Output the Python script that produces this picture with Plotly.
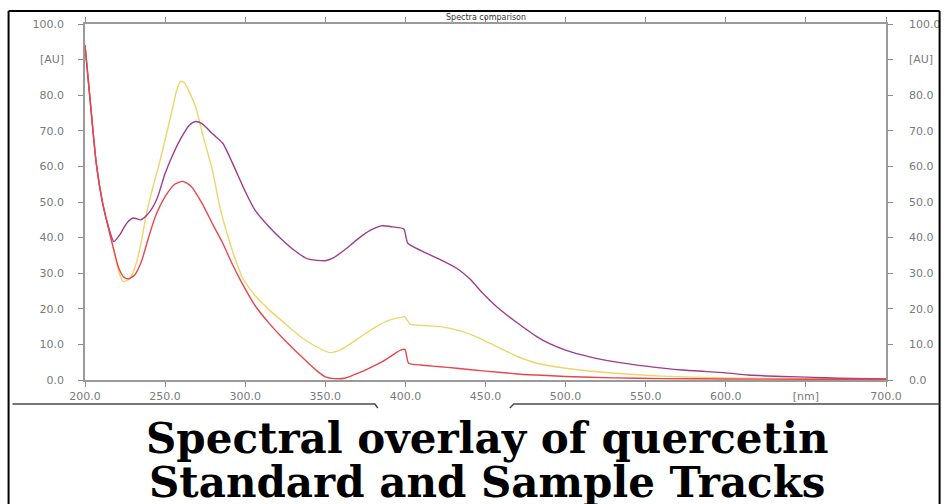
import plotly.graph_objects as go

# ---------------- data ----------------
purple_nm = [200, 203, 207, 211, 215, 218, 222, 226, 230, 235, 240, 245, 250, 255, 260, 265, 269, 273,
             280, 286, 292, 300, 306, 315, 323, 331, 339, 345, 350, 355, 362, 370, 378, 385, 392, 399,
             401.5, 410, 420, 432, 440, 448, 457, 470, 482, 490, 500, 515, 531, 550, 573, 600, 614,
             635, 655, 670, 700]
purple_au = [94, 79.6, 61, 49.7, 42.5, 38.9, 41, 44, 45.5, 45, 47, 51, 58, 63.5, 68, 71.5, 72.6, 72,
             69, 66.5, 61, 53, 47.8, 43, 39.4, 36.3, 34, 33.6, 33.5, 34.3, 36.5, 39.5, 42, 43.3, 43, 42.4,
             38.4, 36.3, 34.2, 31.4, 28.5, 24.5, 20.6, 16, 12.2, 10.2, 8.4, 6.5, 5.1, 3.9, 2.8, 2.0, 1.4,
             1.0, 0.75, 0.5, 0.3]

yellow_nm = [200, 203, 207, 211, 215, 218, 221, 224, 228, 232, 235, 238, 242, 246.5, 250, 254, 257,
             259.5, 262, 265, 269, 274, 279.5, 284, 288, 293, 298, 306, 315, 325, 335, 345, 353, 360,
             370, 380, 390, 397, 399.5, 403, 412, 422, 436, 445, 457, 470, 482, 500, 531, 560, 600,
             650, 700]
yellow_au = [94, 79.6, 61, 49.7, 42, 36.5, 30.5, 27.6, 28.5, 32.8, 38.5, 45.9, 53.5, 61, 67.5, 75, 81,
             83.9, 83.5, 81, 76.8, 68, 59, 49, 42.2, 35, 29, 23.8, 19.7, 15.8, 12, 9.2, 7.7, 8.6,
             11.5, 14.5, 16.8, 17.6, 17.8, 15.7, 15.3, 15, 13.6, 12, 9.4, 6.6, 4.7, 3.3, 1.9, 1.1, 0.6,
             0.35, 0.3]

red_nm = [200, 203, 207, 211, 215, 218, 221, 224, 227, 231, 235, 240, 244, 250, 256, 261, 266, 273,
          280, 286, 292, 298, 306, 315, 325, 333, 340, 345, 350, 356, 362, 368, 375, 385, 392, 397,
          399.7, 402, 410, 420, 432, 450, 470, 482, 500, 530, 560, 600, 650, 700]
red_au = [94, 79.6, 61, 49.7, 42, 36.5, 31.5, 29, 28.4, 29.5, 33, 40.5, 46, 51.5, 55, 55.8, 54.5, 49.7,
          43.5, 38.4, 32.5, 27.2, 21, 15.9, 11, 7.5, 4.5, 2.5, 0.9, 0.4, 0.5, 1.5, 2.8, 5, 7, 8.4,
          8.6, 4.7, 4.2, 3.8, 3.3, 2.5, 1.7, 1.4, 1.0, 0.6, 0.4, 0.3, 0.2, 0.2]

x_tick_vals = [200, 250, 300, 350, 400, 450, 500, 550, 600, 650, 700]
x_tick_text = ["200.0", "250.0", "300.0", "350.0", "400.0", "450.0", "500.0", "550.0", "600.0", "[nm]", "700.0"]
y_tick_vals = [0, 10, 20, 30, 40, 50, 60, 70, 80, 90, 100]
y_tick_text = ["0.0", "10.0", "20.0", "30.0", "40.0", "50.0", "60.0", "70.0", "80.0", "[AU]", "100.0"]

chart_title = "Spectra comparison"
caption_1 = "Spectral overlay of quercetin"
caption_2 = "Standard and Sample Tracks"

# ---------------- layout geometry ----------------
W, H = 952, 504
L, R, T, B = 85, 892, 24, 380


def px(xp):
    return (xp - L) / (R - L)


def py(yp):
    return (B - yp) / (B - T)


fig = go.Figure()
fig.add_trace(go.Scatter(x=yellow_nm, y=yellow_au, mode="lines", name="Standard",
                         line=dict(color="#f0d468", width=1.4, shape="spline", smoothing=0.6)))
fig.add_trace(go.Scatter(x=purple_nm, y=purple_au, mode="lines", name="Sample 1",
                         line=dict(color="#a03c8c", width=1.4, shape="spline", smoothing=0.6)))
fig.add_trace(go.Scatter(x=red_nm, y=red_au, mode="lines", name="Sample 2",
                         line=dict(color="#e8464e", width=1.4, shape="spline", smoothing=0.6)))
# invisible trace to show the right-hand axis
fig.add_trace(go.Scatter(x=[200, 700], y=[0, 100], yaxis="y2", mode="lines",
                         line=dict(color="rgba(0,0,0,0)"), hoverinfo="skip", showlegend=False))

tick_font = dict(family="DejaVu Sans", size=11, color="#7a7a7a")
axis_common = dict(showgrid=False, zeroline=False, showline=True, linecolor="#9a9a9a", linewidth=1.5,
                   ticks="outside", ticklen=5, tickcolor="#8a8a8a", tickwidth=1, tickfont=tick_font)

fig.update_layout(
    width=W, height=H,
    margin=dict(l=L, r=W - R, t=T, b=H - B),
    paper_bgcolor="white", plot_bgcolor="white",
    showlegend=False,
    xaxis=dict(range=[200, 700], tickmode="array", tickvals=x_tick_vals, ticktext=x_tick_text,
               mirror="ticks", **axis_common),
    yaxis=dict(range=[0, 100], tickmode="array", tickvals=y_tick_vals, ticktext=y_tick_text,
               ticklabelstandoff=12, **axis_common),
    yaxis2=dict(range=[0, 100], tickmode="array", tickvals=y_tick_vals, ticktext=y_tick_text,
                overlaying="y", side="right", ticklabelstandoff=14, **axis_common),
)

shapes = []
frame = dict(type="line", xref="paper", yref="paper", line=dict(color="black", width=2))
shapes.append(dict(frame, x0=px(8), x1=px(8), y0=py(11), y1=py(510)))
shapes.append(dict(frame, x0=px(8), x1=px(946), y0=py(11), y1=py(11)))
shapes.append(dict(frame, x0=px(946), x1=px(946), y0=py(11), y1=py(510)))
under = dict(type="path", xref="paper", yref="paper", line=dict(color="#4a4a4a", width=1.5))
shapes.append(dict(under, path=f"M {px(12)} {py(404)} L {px(377)} {py(404)} L {px(380)} {py(408)}"))
shapes.append(dict(under, path=f"M {px(513)} {py(408)} L {px(517)} {py(404)} L {px(946)} {py(404)}"))
fig.update_layout(shapes=shapes)

fig.add_annotation(x=px(489), y=py(17), xref="paper", yref="paper", text=chart_title, showarrow=False,
                   font=dict(family="DejaVu Sans", size=8, color="#333333"), xanchor="center", yanchor="middle")
fig.add_annotation(x=px(490), y=py(439), xref="paper", yref="paper", text=f"<b>{caption_1}</b>",
                   showarrow=False, font=dict(family="DejaVu Serif", size=42, color="black"),
                   xanchor="center", yanchor="middle")
fig.add_annotation(x=px(490), y=py(482), xref="paper", yref="paper", text=f"<b>{caption_2}</b>",
                   showarrow=False, font=dict(family="DejaVu Serif", size=42, color="black"),
                   xanchor="center", yanchor="middle")

fig.write_html("out.html", config={"displayModeBar": False},
               post_script="document.body.style.margin='0px';")
